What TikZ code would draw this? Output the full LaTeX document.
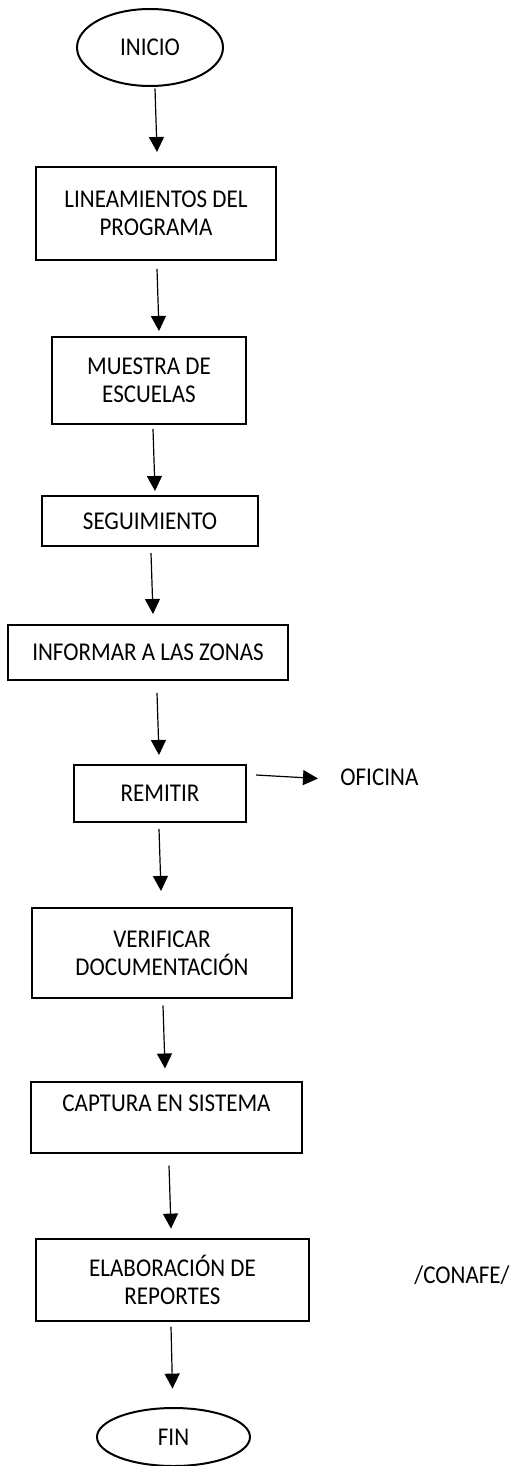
\documentclass[tikz,border=0pt]{standalone}
\usepackage{fontspec}
\setmainfont{Carlito}[FakeStretch=0.9]
\usepackage{tikz}
\usetikzlibrary{positioning, arrows.meta, shapes.geometric}

\begin{document}
\begin{tikzpicture}[x=0.5pt, y=-0.5pt,
        stepbox/.style={draw, rectangle, line width=1pt, align=center, inner sep=0pt, font=\fontsize{12.8}{14.2}\selectfont},
        endbox/.style={draw, ellipse, line width=1pt, inner sep=0pt, font=\fontsize{12.8}{14.2}\selectfont},
        plaintext/.style={inner sep=0pt, font=\fontsize{12.8}{14.2}\selectfont},
        arrow/.style={-{Triangle[length=7.5pt, width=7.5pt]}, line width=0.6pt}
    ]
    \useasboundingbox (0,0) rectangle (512,1466);

    % ============ NODES ============
    \node[endbox, minimum width=73pt, minimum height=38.5pt] (inicio) at (150, 47.5) {INICIO};

    \node[stepbox, minimum width=120pt, minimum height=46.5pt] (lineam) at (156, 213.5) {LINEAMIENTOS DEL\\PROGRAMA};

    \node[stepbox, minimum width=97pt, minimum height=43.5pt] (muestra) at (149, 380.5) {MUESTRA DE\\ESCUELAS};

    \node[stepbox, minimum width=108pt, minimum height=25pt] (seguim) at (150, 521) {SEGUIMIENTO};

    \node[stepbox, minimum width=140pt, minimum height=27.5pt] (informar) at (148, 652.5) {INFORMAR A LAS ZONAS};

    \node[stepbox, minimum width=86pt, minimum height=28.5pt] (remitir) at (160, 793.5) {REMITIR};
    \node[plaintext, anchor=west] (oficina) at (340, 777) {OFICINA};

    \node[stepbox, minimum width=130pt, minimum height=45pt] (verificar) at (162, 953) {VERIFICAR\\DOCUMENTACIÓN};

    \node[stepbox, minimum width=135.5pt, minimum height=35.5pt] (captura) at (166.5, 1117.5) {CAPTURA EN SISTEMA\\~};

    \node[stepbox, minimum width=136.5pt, minimum height=41pt] (elabor) at (172.5, 1280) {ELABORACIÓN DE\\REPORTES};
    \node[plaintext, anchor=west] (conafe) at (414, 1275) {/CONAFE/};

    \node[endbox, minimum width=76.5pt, minimum height=29pt] (fin) at (173.5, 1437) {FIN};

    % ============ ARROWS ============
    \draw[arrow] ([shift={(5,1.5)}]inicio.south) -- ([shift={(1,-14)}]lineam.north);
    \draw[arrow] ([shift={(1,8)}]lineam.south) -- ([shift={(10,-5)}]muestra.north);
    \draw[arrow] ([shift={(4,4)}]muestra.south) -- ([shift={(5,-4)}]seguim.north);
    \draw[arrow] ([shift={(1,6)}]seguim.south) -- ([shift={(5,-10)}]informar.north);
    \draw[arrow] ([shift={(9,12)}]informar.south) -- ([shift={(-1,-9)}]remitir.north);
    \draw[arrow] ([shift={(9,-18.5)}]remitir.east) -- ([shift={(-22,1.5)}]oficina.west);
    \draw[arrow] ([shift={(-1,6)}]remitir.south) -- ([shift={(-1,-16)}]verificar.north);
    \draw[arrow] ([shift={(1,6.5)}]verificar.south) -- ([shift={(-1.5,-12.5)}]captura.north);
    \draw[arrow] ([shift={(2.5,11.6)}]captura.south) -- ([shift={(-1.5,-9.4)}]elabor.north);
    \draw[arrow] ([shift={(-1.5,4.6)}]elabor.south) -- ([shift={(-1,-18.4)}]fin.north);

\end{tikzpicture}
\end{document}
